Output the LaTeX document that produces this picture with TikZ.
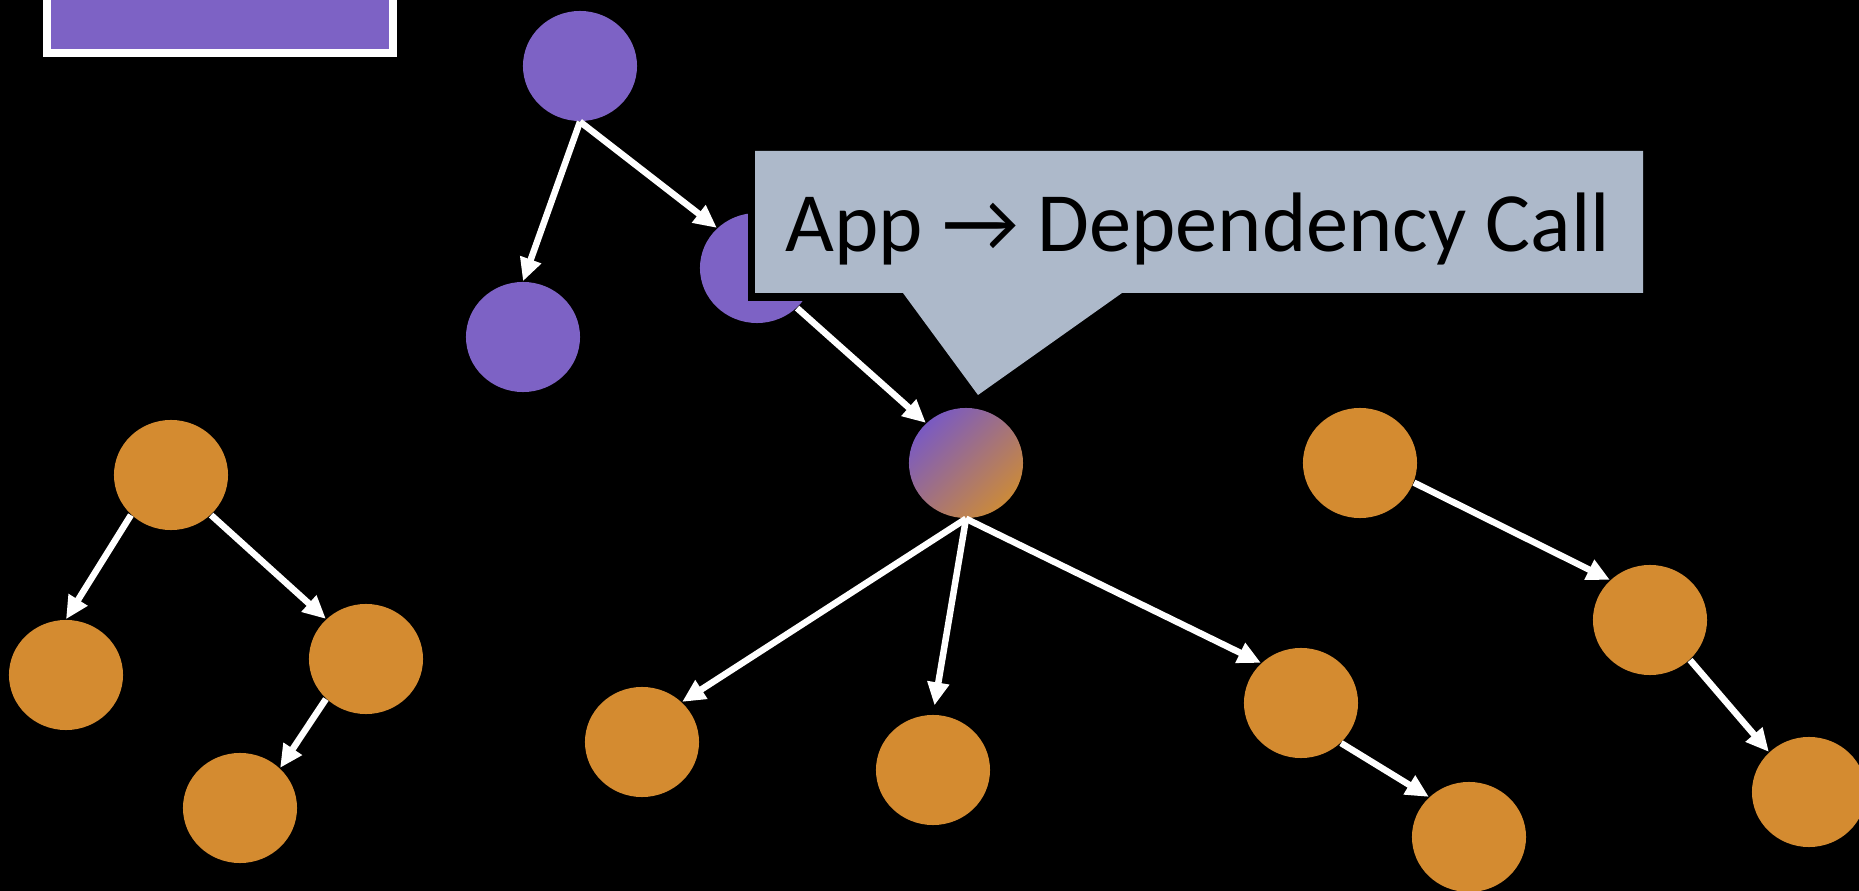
\documentclass[tikz,border=0pt]{standalone}
\usepackage{fontspec}
\newfontfamily\calloutfont{Carlito}
\usetikzlibrary{shapes.geometric,arrows.meta}
\definecolor{nodepurple}{HTML}{7D62C5}
\definecolor{nodeorange}{HTML}{D48B30}
\definecolor{calloutgray}{HTML}{ADB9CA}
\definecolor{mixpurple}{HTML}{7A5AC2}
\definecolor{mixorange}{HTML}{CB8A3A}

\begin{document}
\begin{tikzpicture}[x=0.01cm, y=-0.01cm,
  ball/.style={ellipse, minimum width=1.14cm, minimum height=1.10cm, inner sep=0pt, draw=none},
  pball/.style={ball, fill=nodepurple},
  oball/.style={ball, fill=nodeorange},
  link/.style={draw=white, line width=0.065cm, -{Triangle[length=0.23cm,width=0.21cm]}},
  callout/.style={fill=calloutgray},
  calloutshadow/.style={fill=black},
]
% canvas
\fill[black] (0,0) rectangle (1859,891);
\useasboundingbox (0,0) rectangle (1859,891);

% framed box running off the top edge
\begin{scope}
  \clip (0,0) rectangle (1859,891);
  \fill[nodepurple, draw=white, line width=0.08cm] (47,-20) rectangle (393,53);
\end{scope}

% call tree nodes
\node[pball] (p1) at (580,66) {};
\node[pball] (p2) at (523,337) {};
\node[pball] (p3) at (757,268) {};
\node[ball, top color=mixpurple, bottom color=mixorange, shading angle=45] (g) at (966,463) {};
\node[oball] (oa) at (171,475) {};
\node[oball] (ob) at (66,675) {};
\node[oball] (oc) at (366,659) {};
\node[oball] (od) at (240,808) {};
\node[oball] (oe) at (642,742) {};
\node[oball] (of) at (933,770) {};
\node[oball] (og) at (1301,703) {};
\node[oball] (oh) at (1469,837) {};
\node[oball] (oi) at (1360,463) {};
\node[oball] (oj) at (1650,620) {};
\node[oball] (ok) at (1809,792) {};

% connectors
\draw[link] (p1.south) -- (p2.north);
\draw[link] (p1.south) -- (p3.135);
\draw[link] (p3.-45) -- (g.135);
\draw[link] (g.south) -- (oe.45);
\draw[link, shorten >=0.09cm] (g.south) -- (of.north);
\draw[link] (g.south) -- (og.135);
\draw[link] (og.-45) -- (oh.135);
\draw[link] (oi.-20) -- (oj.135);
\draw[link] (oj.-45) -- (ok.135);
\draw[link] (oa.-135) -- (ob.north);
\draw[link] (oa.-45) -- (oc.135);
\draw[link] (oc.-135) -- (od.45);

% callout with its drop shadow
\fill[calloutshadow, shift={(-7,8)}]
  (755,151) -- (1643,151) -- (1643,293) -- (1122,293) -- (978,395) -- (903,293) -- (755,293) -- cycle;
\fill[callout]
  (755,151) -- (1643,151) -- (1643,293) -- (1122,293) -- (978,395) -- (903,293) -- (755,293) -- cycle;
\node[anchor=base west, inner sep=0pt, text=black,
      font=\calloutfont\fontsize{24pt}{28pt}\selectfont] (label) at (785,252) {App → Dependency Call};
\end{tikzpicture}
\end{document}
